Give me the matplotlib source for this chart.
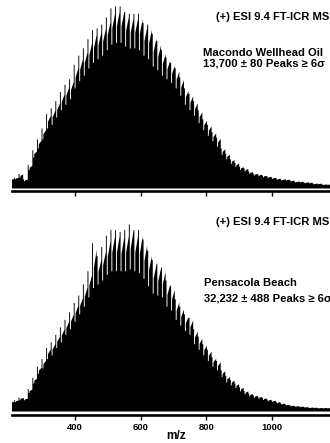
import numpy as np
import matplotlib
matplotlib.use("Agg")
import matplotlib.pyplot as plt
from matplotlib import font_manager

plt.rcParams['font.family'] = ['Liberation Sans', 'DejaVu Sans']
plt.rcParams['font.weight'] = 'bold'

# Nominal-mass homologous series (CH2 spacing) across the spectrum
series_start_mz = 214
series_step_mz = 14
n_series = 69

# Macondo wellhead oil: apex of each CH2 cluster and the level of the
# unresolved body beneath it (relative abundance, %)
macondo_apex = [6, 8, 5, 13, 21, 27, 33, 41, 44, 48,
                53, 57, 60, 68, 73, 77, 82, 87, 88, 90,
                94, 99, 100, 100, 97, 96, 96, 96, 91, 90,
                85, 81, 76, 72, 69, 66, 61, 55, 52, 48,
                43, 38, 35, 31, 28, 22, 19, 16, 14, 12,
                11, 9.3, 8.2, 7.7, 7.1, 6.6, 6.0, 5.5, 5.0, 5.0,
                4.4, 3.8, 3.8, 3.3, 3.3, 2.7, 2.7, 2.2, 2.2]
macondo_body = [5, 6, 4, 10, 17, 22, 27, 33, 35, 39,
                43, 46, 49, 55, 59, 62, 66, 69, 71, 73,
                76, 79, 80, 80, 78, 77, 77, 76, 73, 71,
                67, 65, 62, 60, 58, 55, 51, 46, 43, 40,
                36, 32, 29, 26, 23, 18.5, 16, 13.5, 11.8, 10.2,
                9.3, 8.0, 7.1, 6.7, 6.2, 5.7, 5.2, 4.8, 4.4, 4.3,
                3.8, 3.3, 3.3, 2.9, 2.8, 2.3, 2.3, 1.9, 1.9]

# Pensacola Beach sample
pensacola_apex = [6, 7.5, 7, 12, 18, 24, 28, 34, 37, 41,
                  45, 49, 53, 58, 62, 68, 75, 90, 83, 88,
                  94, 97, 97, 96, 97, 100, 97, 97, 92, 86,
                  81, 79, 77, 70, 67, 60, 56, 52, 50, 44,
                  40, 36, 33, 29, 27, 22, 19, 17, 15, 13,
                  11, 9.6, 8.6, 8.0, 7.2, 6.4, 5.9, 5.1, 4.3, 3.7,
                  3.2, 2.9, 2.7, 2.4, 2.1, 2.1, 1.9, 1.9, 1.9]
pensacola_body = [5, 6, 6, 10, 15, 20, 23, 28, 30, 34,
                  37, 41, 44, 48, 52, 56, 61, 66, 68, 70,
                  73, 75, 75, 75, 75, 76, 75, 74, 71, 67,
                  63, 62, 61, 56, 54, 49, 46, 43, 41, 36,
                  33, 30, 27, 24, 22, 18.5, 15.5, 14, 12.5, 10.8,
                  9.2, 8.1, 7.3, 6.8, 6.1, 5.5, 5.1, 4.4, 3.7, 3.2,
                  2.8, 2.5, 2.3, 2.1, 1.8, 1.8, 1.6, 1.6, 1.6]

mz_ticks = [400, 600, 800, 1000]
mz_range = (209, 1177)

instrument_label = "(+) ESI 9.4 FT-ICR MS"
sample_labels = ["Macondo Wellhead Oil", "Pensacola Beach"]
peak_labels = ["13,700 \u00b1 80 Peaks \u2265 6\u03c3",
               "32,232 \u00b1 488 Peaks \u2265 6\u03c3"]

mz_series = series_start_mz + series_step_mz * np.arange(n_series)

# Bold Liberation Sans, loaded from its file so the regular-width face is used
bold_path = None
for f in font_manager.findSystemFonts():
    if f.endswith("LiberationSans-Bold.ttf"):
        bold_path = f
        break
if bold_path:
    font_manager.fontManager.addfont(bold_path)
    bold_family = font_manager.FontProperties(fname=bold_path).get_name()
else:
    bold_family = 'Liberation Sans'
FAMILY = [bold_family, 'DejaVu Sans']

W, H = 330, 443
fig = plt.figure(figsize=(W / 100, H / 100), dpi=100)


def spectrum_outline(mz, apex, body, hw=1.4, slit=2.8):
    """Per cluster: a narrow spike at the apex, a thin slit down to the body
    level, then a sloping block of unresolved peaks up to the next spike."""
    xs, ys = [mz_range[0] - 5], [body[0]]
    for k in range(len(mz)):
        m = mz[k]
        a, b = apex[k], body[k]
        lo = b + 0.45 * (a - b)
        hi = b + 0.85 * (a - b)
        xs += [m - hw, m - hw, m + hw, m + hw,
               m + hw + slit, m + hw + slit, m + 14 - hw]
        ys += [ys[-1], a, a, b,
               b, lo, hi]
    xs.append(mz_range[1] + 5)
    ys.append(body[-1])
    return np.array(xs), np.array(ys)


def panel(ax_rect, ylim, apex, body, show_labels):
    ax = fig.add_axes(ax_rect)
    xs, ys = spectrum_outline(mz_series, apex, body)
    ax.fill_between(xs, ys, 0, color='black', lw=0)
    ax.set_xlim(*mz_range)
    ax.set_ylim(*ylim)
    for side in ('top', 'right', 'left'):
        ax.spines[side].set_visible(False)
    ax.spines['bottom'].set_linewidth(1.9)
    ax.set_yticks([])
    ax.set_xticks(mz_ticks)
    ax.tick_params(axis='x', direction='out', length=3.5, width=1.0,
                   pad=2.5, labelsize=6.8)
    if not show_labels:
        ax.set_xticklabels([])
    else:
        for lab in ax.get_xticklabels():
            lab.set_fontweight('bold')
            lab.set_family(FAMILY)
    return ax


# Upper panel: zero at y=188 px, 100% at y=6 px, axis line at y=191 px
top_px_per_unit = 182 / 100
top_axis_px, top_zero_px, top_top_px = 191.0, 188.0, 0.0
panel([12.3 / W, 1 - top_axis_px / H, 1 - 12.3 / W, (top_axis_px - top_top_px) / H],
      (-(top_axis_px - top_zero_px) / top_px_per_unit,
       (top_zero_px - top_top_px) / top_px_per_unit),
      macondo_apex, macondo_body, False)

# Lower panel: zero at y=411 px, 100% at y=224 px, axis line at y=414.7 px
bot_px_per_unit = 187 / 100
bot_axis_px, bot_zero_px, bot_top_px = 414.7, 411.0, 200.0
panel([12.3 / W, 1 - bot_axis_px / H, 1 - 12.3 / W, (bot_axis_px - bot_top_px) / H],
      (-(bot_axis_px - bot_zero_px) / bot_px_per_unit,
       (bot_zero_px - bot_top_px) / bot_px_per_unit),
      pensacola_apex, pensacola_body, True)


def ftext(x, y, s, size, ha='left'):
    fig.text(x / W, 1 - y / H, s, fontsize=size, fontweight='bold',
             family=FAMILY, ha=ha, va='center', color='black')


ftext(329, 16.7, instrument_label, 8.1, ha='right')
ftext(203, 53.3, sample_labels[0], 8.1)
ftext(203, 63.5, peak_labels[0], 8.1)

ftext(329, 221.7, instrument_label, 8.1, ha='right')
ftext(204, 283.3, sample_labels[1], 8.1)
ftext(204, 298.3, peak_labels[1], 8.1)

ftext(176, 436, "m/z", 8.6, ha='center')

fig.savefig("out.png", dpi=100)
